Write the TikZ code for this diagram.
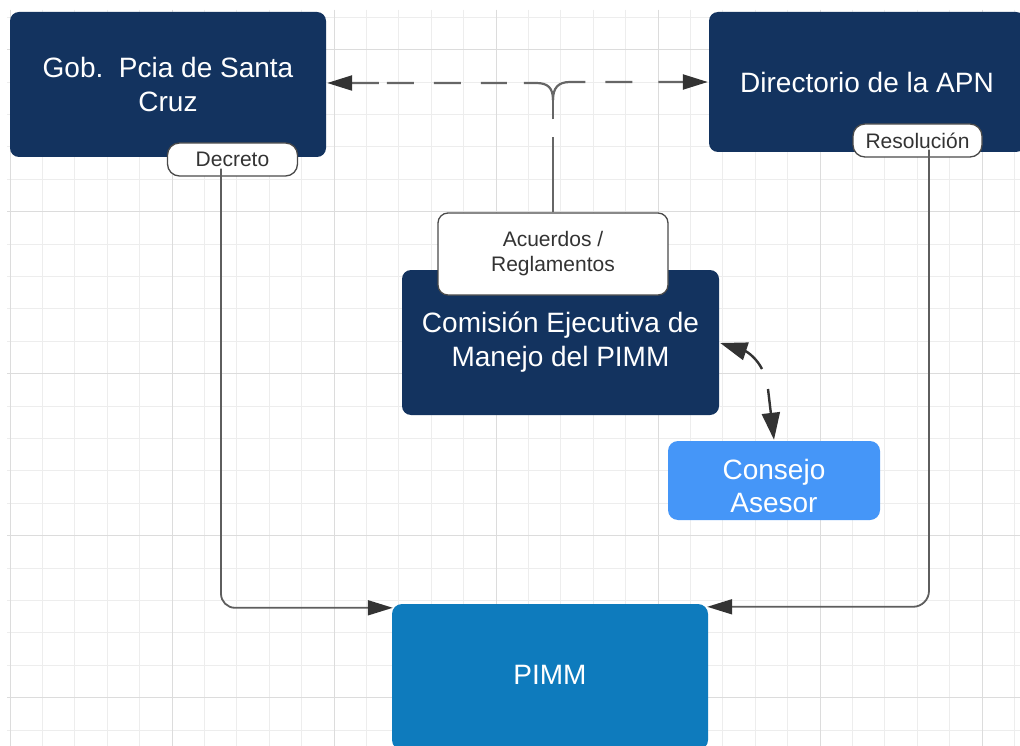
\documentclass[tikz,border=0pt]{standalone}
\usepackage{fontspec}
\setmainfont{Liberation Sans}
\usetikzlibrary{arrows.meta,calc}
\definecolor{navy}{HTML}{13335F}
\definecolor{pimmblue}{HTML}{0E7BBD}
\definecolor{consblue}{HTML}{4596F8}
\definecolor{gridlight}{HTML}{EDEDED}
\definecolor{gridheavy}{HTML}{DCDCDC}
\definecolor{linegray}{HTML}{5E5E5E}
\definecolor{dashgray}{HTML}{666666}
\definecolor{headgray}{HTML}{333333}
\definecolor{labeltext}{HTML}{333333}
\definecolor{labelborder}{HTML}{4A4A4A}
\begin{document}
\begin{tikzpicture}[x=1pt,y=-1pt,
  bigbox/.style={rectangle, rounded corners=9pt, inner sep=0pt, align=center,
    text=white, font=\fontsize{28}{34}\selectfont},
  tagbox/.style={rectangle, draw=labelborder, line width=1.3pt, fill=white,
    inner sep=0pt, align=center, text=labeltext, font=\fontsize{21}{25}\selectfont},
  conn/.style={draw=linegray, line width=1.8pt,
    -{Triangle[length=25pt,width=15pt,color=headgray]}},
  dashline/.style={draw=dashgray, line width=2.2pt},
  dashtip/.style={-{Triangle[length=25pt,width=15pt,color=headgray]}},
  arrowdark/.style={draw=headgray, line width=2.4pt,
    -{Triangle[length=27pt,width=18pt,color=headgray]}},
]
\useasboundingbox (0,0) rectangle (1020,746);
\fill[white] (0,0) rectangle (1020,746);
\clip (0,0) rectangle (1020,746);
% grid
\foreach \k in {0,...,31} {
  \pgfmathsetmacro\gx{10+32.4*\k}
  \draw[gridlight, line width=1pt] (\gx,10) -- (\gx,746);
}
\foreach \j in {0,...,22} {
  \pgfmathsetmacro\gy{17.3+32.4*\j}
  \draw[gridlight, line width=1pt] (7,\gy) -- (1020,\gy);
}
\foreach \gx in {10,172,334,496,658,820,982} {
  \draw[gridheavy, line width=1pt] (\gx,10) -- (\gx,746);
}
\foreach \gy in {49.7,211.7,373.7,535.7,697.7} {
  \draw[gridheavy, line width=1pt] (7,\gy) -- (1020,\gy);
}
% main boxes
\node[bigbox, fill=navy, minimum width=316pt, minimum height=145pt] (gob) at (168,84.5)
  {Gob.\ \ Pcia de Santa\\Cruz};
\node[bigbox, fill=navy, minimum width=316pt, minimum height=140pt] (dir) at (867,82)
  {Directorio de la APN};
\node[bigbox, fill=navy, minimum width=317pt, minimum height=145pt] (com) at (560.5,342.5)
  {Comisión Ejecutiva de\\Manejo del PIMM};
\node[bigbox, fill=consblue, rounded corners=10pt, minimum width=212pt, minimum height=79pt] (cons) at (774,480.5) {};
\node[align=center, text=white, font=\fontsize{28}{33}\selectfont, inner sep=0pt] (consT)
  at ($(cons.center)+(0,5)$) {Consejo\\Asesor};
\node[bigbox, fill=pimmblue, rounded corners=10pt, minimum width=316pt, minimum height=146pt] (pimm) at (550,677)
  {\raisebox{4pt}{PIMM}};
% tags
\node[tagbox, rounded corners=12pt, minimum width=130pt, minimum height=33pt] (dec) at (232.5,159.5) {Decreto};
\node[tagbox, rounded corners=12pt, minimum width=129pt, minimum height=33pt] (res) at (917.5,140.5) {Resolución};
\node[tagbox, rounded corners=10pt, minimum width=230pt, minimum height=82pt] (acu) at (553,254) {Acuerdos /\\Reglamentos};
% connectors
\coordinate (decout) at ($(dec.south)+(-11.5,-8)$);
\coordinate (resout) at ($(res.south)+(11.5,-8)$);
\draw[conn, rounded corners=14pt] (decout) |- ($(pimm.north west)+(1,4)$);
\draw[conn, rounded corners=16pt] (resout) |- ($(pimm.north east)+(-1,3)$);
\coordinate (jn) at (553,100);
\coordinate (lt) at ($(gob.east)+(1,-1.5)$);
\coordinate (rt) at ($(dir.west)+(-1,0)$);
\draw[dashline, dash pattern=on 75pt off 18pt on 40pt] (acu.north) -- (jn);
\draw[dashline, dashtip, dash pattern=on 40pt off 17pt on 26pt off 20pt on 27pt off 20pt on 27pt off 8pt on 60pt]
  (jn) .. controls (553,88) and (548,83) .. (536,83) -- (lt);
\draw[dashline, dashtip, dash pattern=on 44pt off 20pt on 27pt off 26pt on 60pt]
  (jn) .. controls (553,88) and (558,82) .. (570,82) -- (rt);
\coordinate (a1) at (762,369);
\coordinate (b1) at (768,389);
\draw[arrowdark] (a1) .. controls (757,359) and (748,352) .. ($(com.east)+(1,0.5)$);
\draw[arrowdark] (b1) -- ($(cons.north)+(0,-1)$);
\end{tikzpicture}
\end{document}
